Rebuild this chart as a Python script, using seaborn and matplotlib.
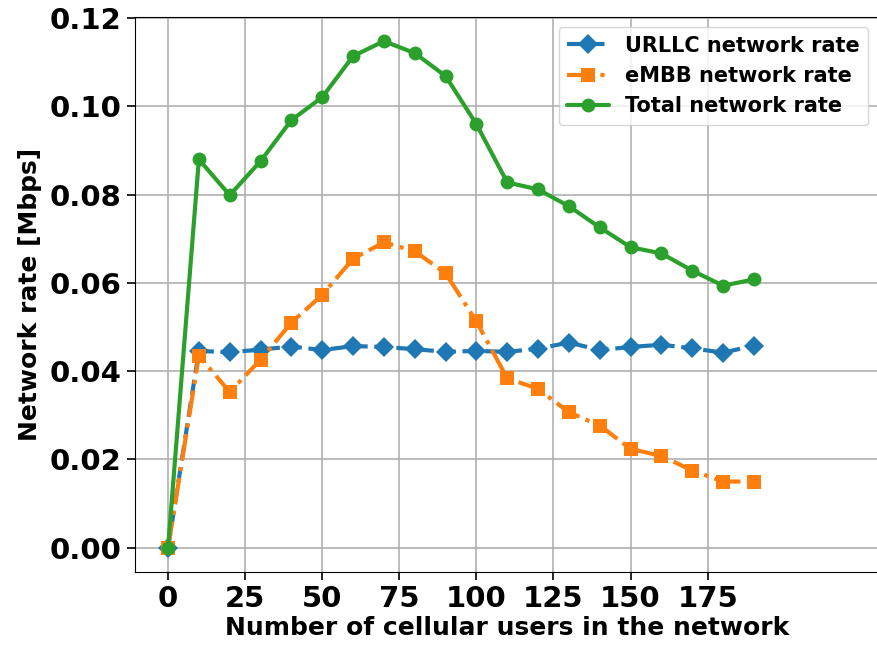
import matplotlib
matplotlib.use("Agg")
import matplotlib.pyplot as plt
import seaborn as sns
import pandas as pd

# ── Data ──────────────────────────────────────────────────────────────────────
users = [0, 10, 20, 30, 40, 50, 60, 70, 80, 90,
         100, 110, 120, 130, 140, 150, 160, 170, 180, 190]

urllc_rate = [0.0, 0.0446, 0.0443, 0.0449, 0.0456, 0.0448, 0.0457, 0.0455, 0.0450, 0.0444,
              0.0446, 0.0444, 0.0451, 0.0465, 0.0448, 0.0455, 0.0460, 0.0452, 0.0442, 0.0458]

embb_rate = [0.0, 0.0435, 0.0353, 0.0426, 0.0510, 0.0573, 0.0655, 0.0692, 0.0672, 0.0622,
             0.0513, 0.0384, 0.0360, 0.0307, 0.0277, 0.0224, 0.0208, 0.0175, 0.0150, 0.0150]

total_rate = [0.0, 0.0880, 0.0799, 0.0876, 0.0969, 0.1021, 0.1114, 0.1148, 0.1121, 0.1069,
              0.0960, 0.0828, 0.0812, 0.0774, 0.0726, 0.0681, 0.0667, 0.0628, 0.0594, 0.0608]

series_names = ["URLLC network rate", "eMBB network rate", "Total network rate"]

# ── Style ─────────────────────────────────────────────────────────────────────
sns.set_style("whitegrid", {
    "axes.edgecolor": "black",
    "axes.labelcolor": "black",
    "text.color": "black",
    "xtick.color": "black",
    "ytick.color": "black",
    "grid.color": "#b0b0b0",
    "xtick.bottom": True,
    "ytick.left": True,
})
plt.rcParams["font.family"] = ["DejaVu Sans"]
plt.rcParams["font.weight"] = "bold"

fig = plt.figure(figsize=(8.77, 6.5), dpi=100)
ax = fig.add_axes([0.154, 0.12, 0.848, 0.854])

styles = [
    dict(color="#1f77b4", linestyle="--", marker="D", markersize=10),
    dict(color="#ff7f0e", linestyle="-.", marker="s", markersize=10),
    dict(color="#2ca02c", linestyle="-", marker="o", markersize=10),
]

for name, vals, st in zip(series_names, [urllc_rate, embb_rate, total_rate], styles):
    df = pd.DataFrame({"users": users, "rate": vals})
    sns.lineplot(data=df, x="users", y="rate", ax=ax, label=name,
                 linewidth=3, markeredgewidth=0, **st)

ax.set_xlim(-10.7, 230.5)
ax.set_ylim(-0.0055, 0.1203)
ax.set_xticks([0, 25, 50, 75, 100, 125, 150, 175])
ax.set_yticks([0.0, 0.02, 0.04, 0.06, 0.08, 0.10, 0.12])
ax.yaxis.set_major_formatter(matplotlib.ticker.FormatStrFormatter("%.2f"))
ax.tick_params(labelsize=21, length=6, width=1.2, color="black", labelcolor="black")
for lab in ax.get_xticklabels() + ax.get_yticklabels():
    lab.set_fontweight("bold")
ax.grid(True, color="#b0b0b0", linewidth=1.2)

ax.set_xlabel("Number of cellular users in the network", fontsize=18, fontweight="bold",
              labelpad=2, color="black")
ax.set_ylabel("Network rate [Mbps]", fontsize=18, fontweight="bold", labelpad=6, color="black")

leg = ax.legend(loc="upper right", prop={"size": 15, "weight": "bold"},
                frameon=True, fancybox=True, framealpha=0.8, edgecolor="#cccccc",
                handlelength=2.0, borderaxespad=0.5)

fig.savefig("out.png", dpi=100)
